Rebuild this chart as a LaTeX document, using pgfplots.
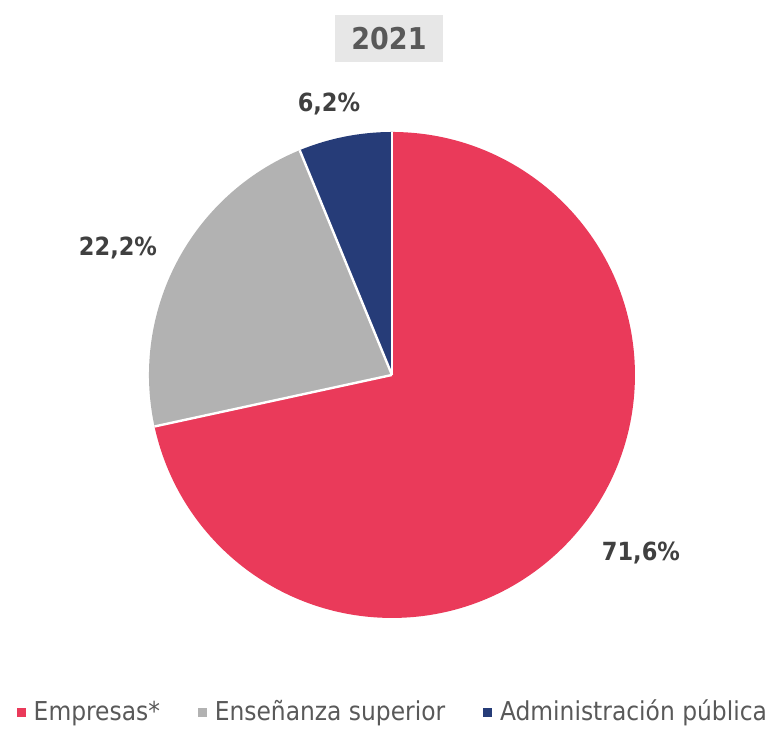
\documentclass[border=0pt]{standalone}
\usepackage{pgfplots}
\pgfplotsset{compat=1.18}
\usepackage{fontspec}
\setmainfont{DejaVu Sans Condensed}

\definecolor{empresas}{RGB}{234,58,90}
\definecolor{ensenanza}{RGB}{178,178,178}
\definecolor{admin}{RGB}{38,60,120}
\definecolor{titlebg}{RGB}{231,231,231}
\definecolor{titletxt}{RGB}{89,89,89}
\definecolor{labeltxt}{RGB}{64,64,64}
\definecolor{legendtxt}{RGB}{89,89,89}

% shares in percent
\pgfmathsetmacro\vA{71.6} % Empresas*
\pgfmathsetmacro\vB{22.2} % Enseñanza superior
\pgfmathsetmacro\vC{6.2}  % Administración pública

% slice angles, clockwise from the top
\pgfmathsetmacro\aA{90}
\pgfmathsetmacro\aB{\aA-\vA*3.6}
\pgfmathsetmacro\aC{\aB-\vB*3.6}
\pgfmathsetmacro\aD{\aC-\vC*3.6}

\def\R{121.5pt}

\begin{document}
\begin{tikzpicture}
\begin{axis}[
  width=388.5pt, height=362.5pt, scale only axis,
  xmin=0, xmax=777, ymin=0, ymax=725,
  hide axis, clip=false,
  legend columns=-1,
  legend cell align=left,
  legend style={at={(axis cs:394,13)}, anchor=center, draw=none, fill=none,
    font=\fontsize{13}{15}\selectfont, text=legendtxt,
    /tikz/every even column/.append style={column sep=17pt},
    /tikz/every odd column/.append style={column sep=2pt}},
  legend image code/.code={\fill[#1] (0pt,-2pt) rectangle (4pt,2pt);},
  ]

\addlegendimage{empresas}
\addlegendentry{Empresas*}
\addlegendimage{ensenanza}
\addlegendentry{Enseñanza superior}
\addlegendimage{admin}
\addlegendentry{Administración pública}

% keep the whole canvas in the bounding box
\path (axis cs:0,0) rectangle (axis cs:777,725);

% slices
\fill[empresas] (axis cs:392,350) -- ++(\aA:\R) arc[start angle=\aA, end angle=\aB, radius=\R] -- cycle;
\fill[ensenanza] (axis cs:392,350) -- ++(\aB:\R) arc[start angle=\aB, end angle=\aC, radius=\R] -- cycle;
\fill[admin] (axis cs:392,350) -- ++(\aC:\R) arc[start angle=\aC, end angle=\aD, radius=\R] -- cycle;
\draw[white, line width=1.2pt] (axis cs:392,350) -- ++(\aA:\R);
\draw[white, line width=1.2pt] (axis cs:392,350) -- ++(\aB:\R);
\draw[white, line width=1.2pt] (axis cs:392,350) -- ++(\aC:\R);

% data labels
\node[font=\bfseries\fontsize{12.5}{14}\selectfont, text=labeltxt] at (axis cs:329,621) {6,2\%};
\node[font=\bfseries\fontsize{12.5}{14}\selectfont, text=labeltxt] at (axis cs:118,477) {22,2\%};
\node[font=\bfseries\fontsize{12.5}{14}\selectfont, text=labeltxt] at (axis cs:641,172) {71,6\%};

% title
\node[fill=titlebg, minimum width=54pt, minimum height=23.5pt, inner sep=0pt,
  font=\bfseries\fontsize{15}{17}\selectfont, text=titletxt] at (axis cs:389,686.5) {2021};

\end{axis}
\end{tikzpicture}
\end{document}
